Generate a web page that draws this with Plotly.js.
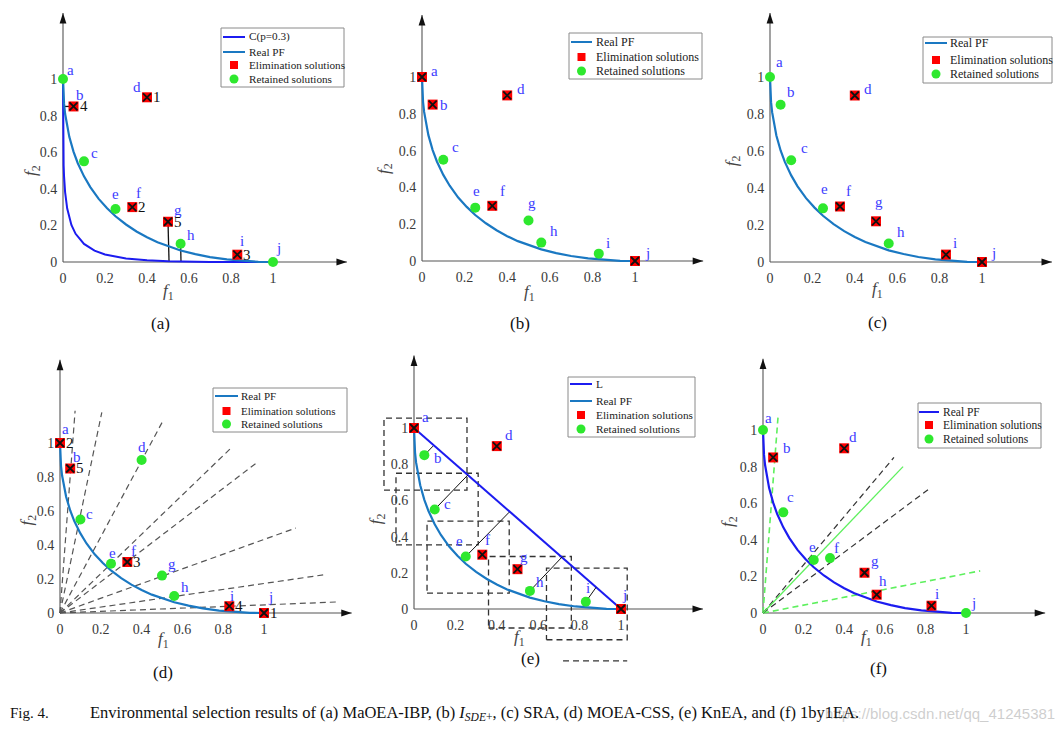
<!DOCTYPE html>
<html><head><meta charset="utf-8">
<script src="https://cdn.plot.ly/plotly-3.0.1.min.js"></script>
<style>body{margin:0;background:#fff}#chart{width:1063px;height:729px}</style>
</head><body><div id="chart"></div>
<script>
// ================= DATA =================
const pointNames = ['a','b','c','d','e','f','g','h','i','j'];
const pointF1 = [0, 0.05, 0.10, 0.40, 0.25, 0.33, 0.50, 0.56, 0.83, 1.00];
const pointF2 = [1, 0.85, 0.55, 0.90, 0.29, 0.30, 0.22, 0.10, 0.04, 0.00];

// Real PF
const pfF1 = [0, 0.002, 0.005, 0.01, 0.02, 0.03, 0.05, 0.07, 0.10, 0.13, 0.17, 0.21, 0.25, 0.30, 0.35, 0.40, 0.45, 0.50, 0.56, 0.63, 0.70, 0.78, 0.86, 0.93, 1.00];
const pfF2 = [1, 0.913, 0.864, 0.810, 0.737, 0.684, 0.603, 0.541, 0.468, 0.409, 0.345, 0.294, 0.250, 0.205, 0.167, 0.135, 0.108, 0.086, 0.063, 0.043, 0.027, 0.014, 0.005, 0.001, 0];

// C(p=0.3) curve in (a)
const cF1 = [0, 0.00002, 0.0002, 0.001, 0.003, 0.005, 0.01, 0.02, 0.04, 0.06, 0.10, 0.15, 0.20, 0.30, 0.40, 0.50, 0.70, 1.00];
const cF2 = [1, 0.876, 0.763, 0.638, 0.527, 0.468, 0.382, 0.292, 0.202, 0.154, 0.099, 0.062, 0.041, 0.019, 0.009, 0.004, 0.0005, 0];

// eliminated solutions per panel (rest are retained)
const elimA = ['b','d','f','g','i'];
const elimB = ['a','b','d','f','j'];
const elimC = ['d','f','g','i','j'];
const elimD = ['a','b','f','i','j'];
const elimE = ['a','d','f','g','j'];
const elimF = ['b','d','g','h','i'];

// elimination order numbers
const rankNamesA = ['d','f','i','b','g'];
const rankNamesD = ['j','a','f','i','b'];
const rankValues = ['1','2','3','4','5'];

// (a) distance segments to C
const distNamesA = ['b','g','h','i'];
const distEndF1A = [0.0, 0.505, 0.562, 0.83];
const distEndF2A = [0.85, 0.0, 0.0, 0.0];

// (d) reference rays from the origin
const rayEndF1 = [0.074, 0.205, 0.50, 0.838, 0.96, 1.156, 1.29, 1.36];
const rayEndF2 = [1.19, 1.18, 1.12, 0.97, 0.88, 0.50, 0.224, 0.065];

// (e) extreme line L, perpendicular feet, neighbourhood boxes
const lineLF1 = [0, 1];
const lineLF2 = [1, 0];
const footNamesE = ['b','c','e','h','i'];
const footF1 = [0.092, 0.26, 0.46, 0.715, 0.88];
const footF2 = [0.90, 0.74, 0.535, 0.287, 0.12];
const boxLeft   = [-0.145, -0.087, 0.063, 0.36, 0.64];
const boxRight  = [0.256, 0.31, 0.46, 0.76, 1.03];
const boxBottom = [0.657, 0.354, 0.088, -0.105, -0.17];
const boxTop    = [1.055, 0.75, 0.486, 0.29, 0.226];
const strayF1 = [0.72, 1.03];
const strayF2 = [-0.287, -0.287];

// (f) direction lines
const greenDashEndF1 = [0.074, 1.07];
const greenDashEndF2 = [1.07, 0.23];
const greenSolidEndF1 = [0.69];
const greenSolidEndF2 = [0.80];
const blackDashEndF1 = [0.645, 0.82];
const blackDashEndF2 = [0.85, 0.68];

// ticks
const tickVals = [0, 0.2, 0.4, 0.6, 0.8, 1];
const tickText = ['0', '0.2', '0.4', '0.6', '0.8', '1'];

const captionLead = 'Fig. 4.';
const captionBody = 'Environmental selection results of (a) MaOEA-IBP, (b) <i>I</i><sub><i>SDE</i>+</sub>, (c) SRA, (d) MOEA-CSS, (e) KnEA, and (f) 1by1EA.';
const watermark = 'https://blog.csdn.net/qq_41245381';

// ================= STYLE / LAYOUT =================
const W = 1063, H = 729;
const SERIF = '"Liberation Serif", "Times New Roman", serif';
const PF_COLOR = '#1a78c2', DARK_BLUE = '#1c1cf0', LABEL_BLUE = '#3b3bff';
const RED = '#ff0000', GREEN = '#2ee82e';

const panels = [
  {tag:'(a)', ox:63, oy:262, sx:210, sy:183, box:[15,355,5,300], arrow:[1.352,1.36], t1:[0.5,-0.164], t2:[-0.15,0.5], tagPos:[160,323],
   elim:elimA, pfColor:PF_COLOR,
   shifts:{a:[7,-9],b:[6,-11],c:[10,-8],d:[-10,-10],e:[0,-15],f:[6,-14],g:[10,-12],h:[10,-9],i:[5,-14],j:[5,-14]},
   ranks:rankNamesA,
   legend:{box:[221,28,344,87], rows:[37,52,65,79], sym:[223,245], textX:247, font:11.2,
     items:[{k:'line',c:DARK_BLUE,t:'C(p=0.3)'},{k:'line',c:PF_COLOR,t:'Real PF'},{k:'sq',t:'Elimination solutions'},{k:'ci',t:'Retained solutions'}]}},
  {tag:'(b)', ox:422, oy:261, sx:213, sy:184, box:[365,712,5,300], arrow:[1.32,1.337], t1:[0.507,-0.174], t2:[-0.174,0.505], tagPos:[520,323],
   elim:elimB, pfColor:PF_COLOR,
   shifts:{a:[12,-6],b:[11,0],c:[12,-13],d:[14,-6],e:[1,-17],f:[10,-15],g:[3,-18],h:[13,-12],i:[9,-11],j:[12,-8]},
   legend:{box:[569,33,702,79], rows:[42,57,71], sym:[571,592], textX:594, font:12,
     items:[{k:'line',c:PF_COLOR,t:'Real PF'},{k:'sq',t:'Elimination solutions'},{k:'ci',t:'Retained solutions'}]}},
  {tag:'(c)', ox:770, oy:262, sx:212, sy:185, box:[716,1060,5,300], arrow:[1.33,1.346], t1:[0.505,-0.15], t2:[-0.175,0.55], tagPos:[877,322],
   elim:elimC, pfColor:PF_COLOR,
   shifts:{a:[9,-15],b:[10,-13],c:[13,-12],d:[13,-7],e:[1,-19],f:[9,-16],g:[3,-19],h:[12,-12],i:[9,-12],j:[11,-9]},
   legend:{box:[923,37,1052,83], rows:[43,60,74], sym:[925,947], textX:948, font:12,
     items:[{k:'line',c:PF_COLOR,t:'Real PF'},{k:'sq',t:'Elimination solutions'},{k:'ci',t:'Retained solutions'}]}},
  {tag:'(d)', ox:60, oy:613, sx:204, sy:170, box:[10,358,345,655], arrow:[1.43,1.49], t1:[0.505,-0.16], t2:[-0.157,0.55], tagPos:[163,672],
   elim:elimD, pfColor:PF_COLOR,
   shifts:{a:[5,-14],b:[7,-11],c:[9,-6],d:[0,-13],e:[1,-11],f:[6,-11],g:[10,-12],h:[11,-9],i:[3,-10],j:[6,-16]},
   ranks:rankNamesD,
   legend:{box:[213,388,347,432], rows:[396,411,424], sym:[215,238], textX:239, font:11,
     items:[{k:'line',c:PF_COLOR,t:'Real PF'},{k:'sq',t:'Elimination solutions'},{k:'ci',t:'Retained solutions'}]}},
  {tag:'(e)', ox:414, oy:609, sx:207, sy:181, box:[365,712,345,670], arrow:[1.396,1.40], t1:[0.51,-0.16], t2:[-0.18,0.5], tagPos:[530,658],
   elim:elimE, pfColor:PF_COLOR,
   shifts:{a:[11,-11],b:[14,3],c:[13,-5],d:[12,-11],e:[-6,-16],f:[5,-15],g:[6,-12],h:[10,-9],i:[2,-14],j:[3,-14]},
   legend:{box:[568,377,695,437], rows:[384,401,415,429], sym:[570,592], textX:594, font:11.3,
     items:[{k:'line',c:DARK_BLUE,t:'L'},{k:'line',c:PF_COLOR,t:'Real PF'},{k:'sq',t:'Elimination solutions'},{k:'ci',t:'Retained solutions'}]}},
  {tag:'(f)', ox:763, oy:613, sx:203, sy:183, box:[716,1060,345,655], arrow:[1.39,1.39], t1:[0.51,-0.137], t2:[-0.17,0.5], tagPos:[878,668],
   elim:elimF, pfColor:DARK_BLUE,
   shifts:{a:[5,-12],b:[14,-9],c:[7,-15],d:[9,-11],e:[-1,-13],f:[7,-10],g:[10,-12],h:[6,-14],i:[6,-12],j:[7,-10]},
   legend:{box:[918,403,1041,448], rows:[412,425,439], sym:[919,939], textX:941, font:11.5,
     items:[{k:'line',c:DARK_BLUE,t:'Real PF'},{k:'sq',t:'Elimination solutions'},{k:'ci',t:'Retained solutions'}]}}
];

const px = x => x / W;
const py = y => 1 - y / H;
const idx = n => pointNames.indexOf(n);

function segs(x0, y0, x1, y1) {
  const xs = [], ys = [];
  for (let k = 0; k < x1.length; k++) { xs.push(x0[k], x1[k], null); ys.push(y0[k], y1[k], null); }
  return {x: xs, y: ys};
}

const traces = [], shapes = [], annotations = [];
const layout = {
  width: W, height: H, autosize: false,
  margin: {l: 0, r: 0, t: 0, b: 0},
  paper_bgcolor: '#fff', plot_bgcolor: 'rgba(0,0,0,0)',
  showlegend: false, hovermode: false
};

panels.forEach((P, i) => {
  const sfx = i === 0 ? '' : String(i + 1);
  const xr = 'x' + sfx, yr = 'y' + sfx;
  const [l, r, t, b] = P.box;
  const axisCommon = {
    showgrid: false, zeroline: false, showline: false,
    tickvals: tickVals, ticktext: tickText,
    ticks: 'outside', ticklen: 3, tickcolor: 'rgba(0,0,0,0)',
    tickfont: {family: SERIF, size: 14, color: '#3a3a3a'},
    fixedrange: true, anchor: 'free'
  };
  layout['xaxis' + sfx] = Object.assign({}, axisCommon, {
    domain: [px(l), px(r)], range: [(l - P.ox) / P.sx, (r - P.ox) / P.sx], position: py(P.oy)
  });
  layout['yaxis' + sfx] = Object.assign({}, axisCommon, {
    domain: [py(b), py(t)], range: [(P.oy - b) / P.sy, (P.oy - t) / P.sy], position: px(P.ox)
  });

  const base = {type: 'scatter', xaxis: xr, yaxis: yr, hoverinfo: 'skip', showlegend: false};
  const add = o => traces.push(Object.assign({}, base, o));

  // axis lines with arrow heads
  add({mode: 'lines', x: [0, P.arrow[0], null, 0, 0], y: [0, 0, null, 0, P.arrow[1]],
       line: {color: '#555', width: 1.1}, cliponaxis: false});
  add({mode: 'markers', x: [P.arrow[0], 0], y: [0, P.arrow[1]],
       marker: {symbol: 'arrow', size: 11, angle: [90, 0], color: '#111', line: {width: 0}}, cliponaxis: false});

  if (i === 0) {
    const s = segs(distNamesA.map(n => pointF1[idx(n)]), distNamesA.map(n => pointF2[idx(n)]), distEndF1A, distEndF2A);
    add({mode: 'lines', x: s.x, y: s.y, line: {color: '#111', width: 1.3}});
    add({mode: 'lines', x: cF1, y: cF2, line: {color: DARK_BLUE, width: 2}});
  }
  if (i === 3) {
    const s = segs(rayEndF1.map(() => 0), rayEndF2.map(() => 0), rayEndF1, rayEndF2);
    add({mode: 'lines', x: s.x, y: s.y, line: {color: '#555', width: 1.2, dash: '6px,4px'}});
  }
  if (i === 4) {
    const bx = [], by = [];
    for (let k = 0; k < boxLeft.length; k++) {
      bx.push(boxLeft[k], boxRight[k], boxRight[k], boxLeft[k], boxLeft[k], null);
      by.push(boxBottom[k], boxBottom[k], boxTop[k], boxTop[k], boxBottom[k], null);
    }
    bx.push(strayF1[0], strayF1[1]); by.push(strayF2[0], strayF2[1]);
    add({mode: 'lines', x: bx, y: by, line: {color: '#333', width: 1.3, dash: '6px,4px'}});
  }
  if (i === 5) {
    const g = segs([0, 0], [0, 0], greenDashEndF1, greenDashEndF2);
    add({mode: 'lines', x: g.x, y: g.y, line: {color: '#5ef05e', width: 1.6, dash: '6px,4px'}});
    const k = segs([0, 0], [0, 0], blackDashEndF1, blackDashEndF2);
    add({mode: 'lines', x: k.x, y: k.y, line: {color: '#333', width: 1.2, dash: '6px,4px'}});
    add({mode: 'lines', x: [0, greenSolidEndF1[0]], y: [0, greenSolidEndF2[0]], line: {color: '#5ef05e', width: 1.3}});
  }

  add({mode: 'lines', x: pfF1, y: pfF2, line: {color: P.pfColor, width: 2.2}});

  if (i === 4) {
    add({mode: 'lines', x: lineLF1, y: lineLF2, line: {color: DARK_BLUE, width: 2}});
    const s = segs(footNamesE.map(n => pointF1[idx(n)]), footNamesE.map(n => pointF2[idx(n)]), footF1, footF2);
    add({mode: 'lines', x: s.x, y: s.y, line: {color: '#111', width: 1}});
  }

  const ei = P.elim.map(idx);
  const ri = pointNames.map((n, k) => k).filter(k => !P.elim.includes(pointNames[k]));
  add({mode: 'markers', x: ei.map(k => pointF1[k]), y: ei.map(k => pointF2[k]),
       marker: {symbol: 'square', size: 10, color: RED}, cliponaxis: false});
  add({mode: 'markers', x: ei.map(k => pointF1[k]), y: ei.map(k => pointF2[k]),
       marker: {symbol: 'x-thin-open', size: 8, color: '#111', line: {color: '#111', width: 1.8}}, cliponaxis: false});
  add({mode: 'markers', x: ri.map(k => pointF1[k]), y: ri.map(k => pointF2[k]),
       marker: {symbol: 'circle', size: 10, color: GREEN}, cliponaxis: false});

  pointNames.forEach((n, k) => {
    const s = P.shifts[n];
    annotations.push({xref: xr, yref: yr, x: pointF1[k], y: pointF2[k], text: n, showarrow: false,
      xanchor: 'center', yanchor: 'middle',
      xshift: s[0], yshift: -s[1], font: {family: SERIF, size: 15, color: LABEL_BLUE}});
  });
  if (P.ranks) {
    P.ranks.forEach((n, k) => {
      annotations.push({xref: xr, yref: yr, x: pointF1[idx(n)], y: pointF2[idx(n)], text: rankValues[k],
        showarrow: false, xanchor: 'center', yanchor: 'middle', xshift: 10, yshift: 0,
        font: {family: SERIF, size: 15, color: '#111'}});
    });
  }

  annotations.push({xref: xr, yref: yr, x: P.t1[0], y: P.t1[1], text: '<i>f</i><sub>1</sub>', showarrow: false,
    xanchor: 'center', yanchor: 'middle', font: {family: SERIF, size: 17, color: '#444'}});
  annotations.push({xref: xr, yref: yr, x: P.t2[0], y: P.t2[1], text: '<i>f</i><sub>2</sub>', showarrow: false,
    xanchor: 'center', yanchor: 'middle', textangle: -90, font: {family: SERIF, size: 17, color: '#444'}});

  annotations.push({xref: 'paper', yref: 'paper', x: px(P.tagPos[0]), y: py(P.tagPos[1]), text: P.tag,
    xanchor: 'center', yanchor: 'middle', showarrow: false, font: {family: SERIF, size: 17, color: '#111'}});

  const L = P.legend;
  shapes.push({type: 'rect', xref: 'paper', yref: 'paper', x0: px(L.box[0]), x1: px(L.box[2]), y0: py(L.box[3]), y1: py(L.box[1]),
    line: {color: '#8a8a8a', width: 1}, fillcolor: '#fff', layer: 'above'});
  L.items.forEach((it, k) => {
    const yy = L.rows[k], xc = (L.sym[0] + L.sym[1]) / 2;
    if (it.k === 'line') {
      shapes.push({type: 'line', xref: 'paper', yref: 'paper', x0: px(L.sym[0]), x1: px(L.sym[1]), y0: py(yy), y1: py(yy),
        line: {color: it.c, width: 2}, layer: 'above'});
    } else if (it.k === 'sq') {
      shapes.push({type: 'rect', xref: 'paper', yref: 'paper', x0: px(xc - 4), x1: px(xc + 4), y0: py(yy + 4), y1: py(yy - 4),
        line: {width: 0}, fillcolor: RED, layer: 'above'});
    } else {
      shapes.push({type: 'circle', xref: 'paper', yref: 'paper', x0: px(xc - 4.5), x1: px(xc + 4.5), y0: py(yy + 4.5), y1: py(yy - 4.5),
        line: {width: 0}, fillcolor: GREEN, layer: 'above'});
    }
    annotations.push({xref: 'paper', yref: 'paper', x: px(L.textX), y: py(yy), xanchor: 'left', yanchor: 'middle',
      text: it.t, showarrow: false, font: {family: SERIF, size: L.font, color: '#222'}});
  });
});

annotations.push({xref: 'paper', yref: 'paper', x: px(8), y: py(713), xanchor: 'left', yanchor: 'middle',
  text: captionLead, showarrow: false, font: {family: SERIF, size: 15, color: '#111'}});
annotations.push({xref: 'paper', yref: 'paper', x: px(1057), y: py(713), xanchor: 'right', yanchor: 'middle',
  text: watermark, showarrow: false, font: {family: '"Liberation Sans", Arial, sans-serif', size: 15, color: 'rgba(185,185,185,0.7)'}});
annotations.push({xref: 'paper', yref: 'paper', x: px(88), y: py(713), xanchor: 'left', yanchor: 'middle',
  text: captionBody, showarrow: false, font: {family: SERIF, size: 16.5, color: '#111'}});

layout.shapes = shapes;
layout.annotations = annotations;

Plotly.newPlot('chart', traces, layout, {staticPlot: true, displayModeBar: false});
</script>
</body></html>
